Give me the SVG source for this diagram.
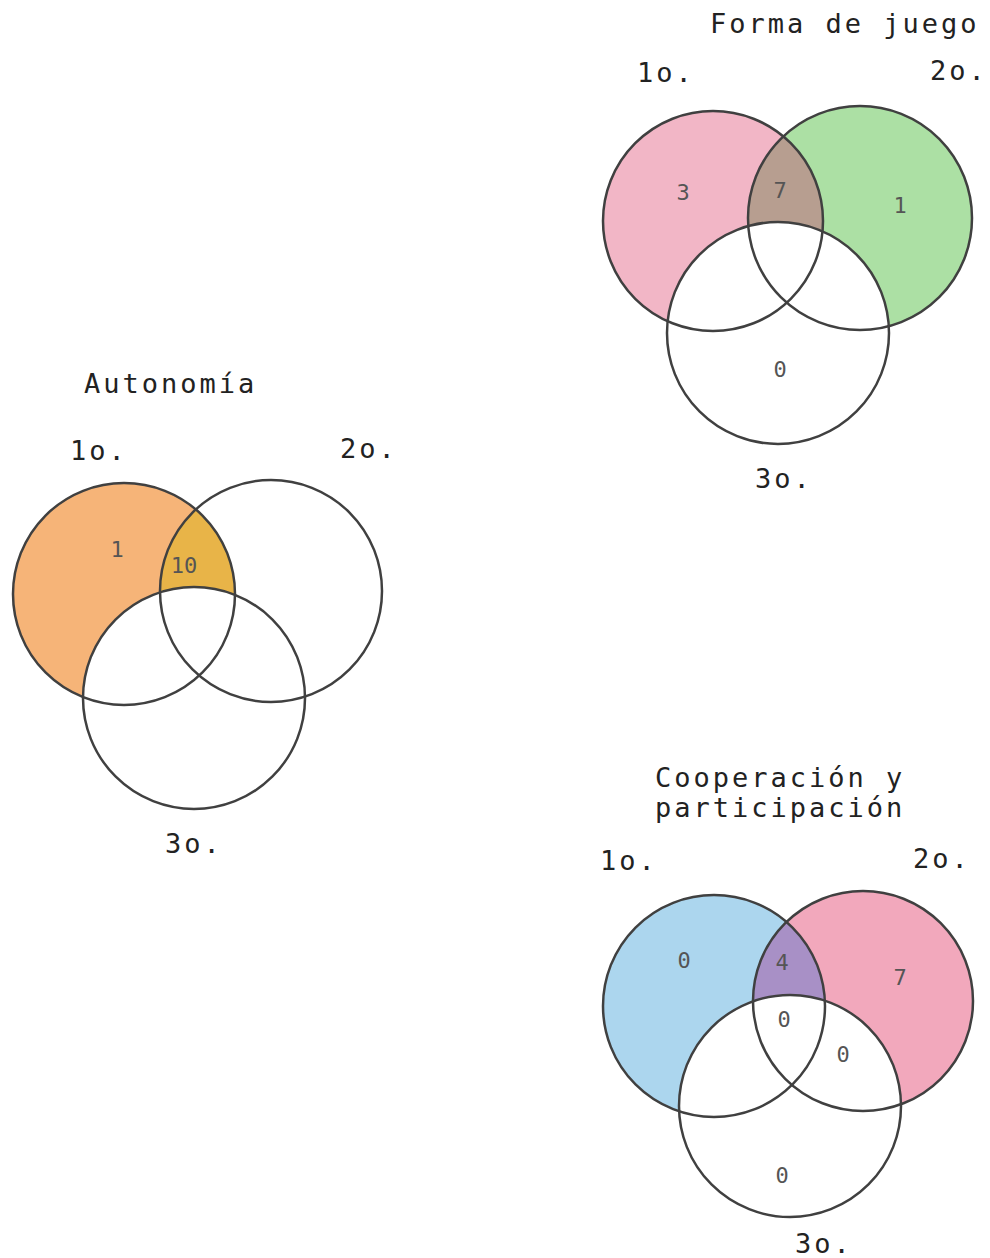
<svg xmlns="http://www.w3.org/2000/svg" width="990" height="1258" viewBox="0 0 990 1258">
<style>
.ring{fill:none;stroke:#404040;stroke-width:2.5}
.t{font-family:"DejaVu Sans Mono","Liberation Mono",monospace;font-size:27px;fill:#222;letter-spacing:3px}
.n{font-family:"DejaVu Sans Mono","Liberation Mono",monospace;font-size:22px;fill:#555;text-anchor:middle}
.w{fill:#ffffff}
</style>
<defs>
<clipPath id="cF1"><circle cx="713" cy="221" r="110"/></clipPath>
<clipPath id="cA1"><circle cx="124" cy="594" r="111"/></clipPath>
<clipPath id="cC1"><circle cx="714" cy="1006" r="111"/></clipPath>
</defs>
<rect width="990" height="1258" fill="#ffffff"/>

<g id="forma-de-juego">
<circle cx="713" cy="221" r="110" fill="#f2b6c6"/>
<circle cx="860" cy="218" r="112" fill="#ace0a4"/>
<circle cx="860" cy="218" r="112" fill="#b79e90" clip-path="url(#cF1)"/>
<circle cx="778" cy="333" r="111" class="w"/>
<circle cx="713" cy="221" r="110" class="ring"/>
<circle cx="860" cy="218" r="112" class="ring"/>
<circle cx="778" cy="333" r="111" class="ring"/>
<text class="t" x="710" y="33">Forma de juego</text>
<text class="t" x="637" y="82">1o.</text>
<text class="t" x="930" y="80">2o.</text>
<text class="t" x="755" y="488" fill="#555">3o.</text>
<text class="n" x="683" y="200">3</text>
<text class="n" x="780" y="198">7</text>
<text class="n" x="900" y="213">1</text>
<text class="n" x="780" y="377">0</text>
</g>

<g id="autonomia">
<circle cx="124" cy="594" r="111" fill="#f6b478"/>
<circle cx="271" cy="591" r="111" fill="#e8b448" clip-path="url(#cA1)"/>
<circle cx="194" cy="698" r="111" class="w"/>
<circle cx="124" cy="594" r="111" class="ring"/>
<circle cx="271" cy="591" r="111" class="ring"/>
<circle cx="194" cy="698" r="111" class="ring"/>
<text class="t" x="84" y="393">Autonomía</text>
<text class="t" x="70" y="460">1o.</text>
<text class="t" x="340" y="458">2o.</text>
<text class="t" x="165" y="853">3o.</text>
<text class="n" x="117" y="557">1</text>
<text class="n" x="184" y="573">10</text>
</g>

<g id="cooperacion">
<circle cx="714" cy="1006" r="111" fill="#acd6ee"/>
<circle cx="863" cy="1001" r="110" fill="#f2a8bc"/>
<circle cx="863" cy="1001" r="110" fill="#a890c6" clip-path="url(#cC1)"/>
<circle cx="790" cy="1106" r="111" class="w"/>
<circle cx="714" cy="1006" r="111" class="ring"/>
<circle cx="863" cy="1001" r="110" class="ring"/>
<circle cx="790" cy="1106" r="111" class="ring"/>
<text class="t" x="655" y="787">Cooperación y</text>
<text class="t" x="655" y="817">participación</text>
<text class="t" x="600" y="870" fill="#666">1o.</text>
<text class="t" x="913" y="868" fill="#666">2o.</text>
<text class="t" x="795" y="1253">3o.</text>
<text class="n" x="684" y="968">0</text>
<text class="n" x="782" y="970">4</text>
<text class="n" x="900" y="985">7</text>
<text class="n" x="784" y="1027">0</text>
<text class="n" x="843" y="1062">0</text>
<text class="n" x="782" y="1183">0</text>
</g>

<g id="connectors"></g>
</svg>
